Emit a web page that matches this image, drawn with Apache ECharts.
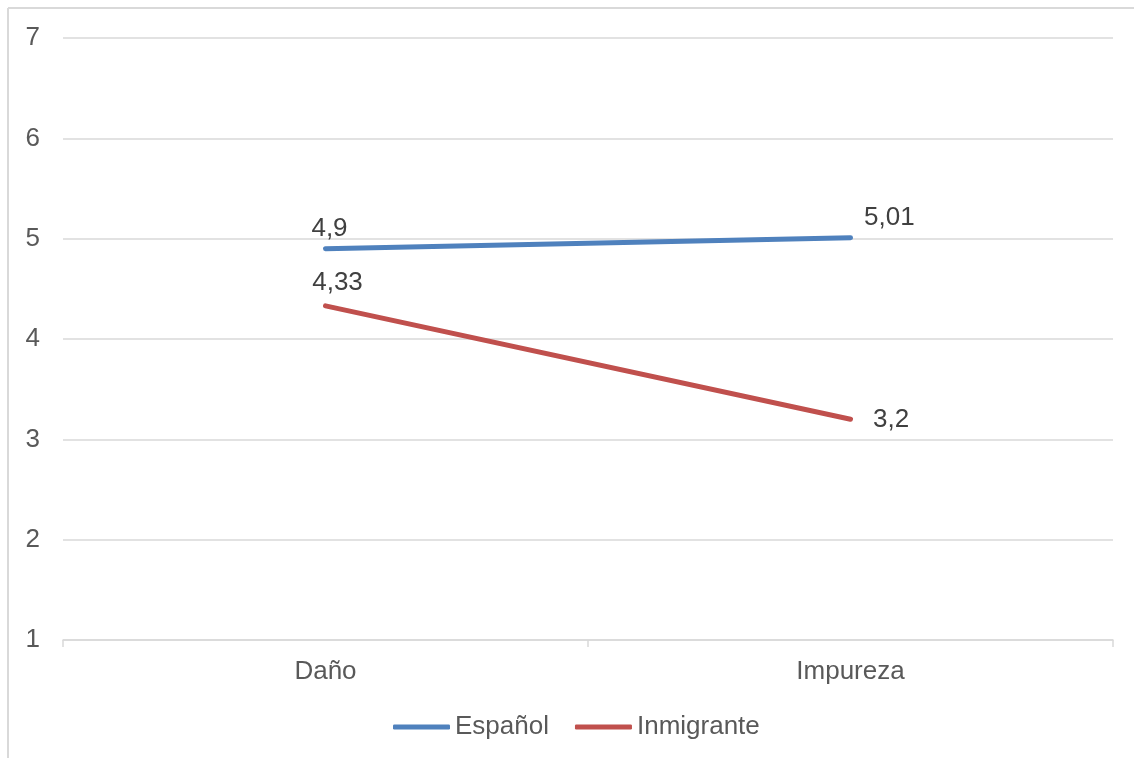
<!DOCTYPE html>
<html>
<head>
<meta charset="utf-8">
<script src="https://cdn.jsdelivr.net/npm/echarts@6/dist/echarts.min.js"></script>
<style>
  html, body { margin: 0; padding: 0; background: #fff; }
  #main { width: 1134px; height: 758px; }
</style>
</head>
<body>
<div id="main"></div>
<script>
  // categorias y valores
  var categories = ['Daño', 'Impureza'];
  var espanol = [4.9, 5.01];
  var inmigrante = [4.33, 3.2];
  var seriesNames = ['Español', 'Inmigrante'];

  var labelFont = 'Liberation Sans, Arial, sans-serif';
  var fs = 26;

  var chart = echarts.init(document.getElementById('main'));
  chart.setOption({
    animation: false,
    textStyle: { fontFamily: labelFont },
    graphic: [
      { type: 'line', shape: { x1: 8, y1: 8, x2: 1134, y2: 8 }, style: { stroke: '#d9d9d9', lineWidth: 2 } },
      { type: 'line', shape: { x1: 8, y1: 8, x2: 8, y2: 758 }, style: { stroke: '#d9d9d9', lineWidth: 2 } }
    ],
    grid: { left: 63, right: 21, top: 38, bottom: 118 },
    legend: {
      bottom: 13,
      left: 388,
      itemWidth: 57,
      itemHeight: 5,
      itemGap: 26,
      icon: 'roundRect',
      textStyle: { color: '#595959', fontSize: fs, fontFamily: labelFont },
      data: seriesNames
    },
    xAxis: {
      type: 'category',
      data: categories,
      boundaryGap: true,
      axisLine: { lineStyle: { color: '#d9d9d9', width: 1.5 } },
      axisTick: { show: true, length: 7, lineStyle: { color: '#d9d9d9', width: 1.5 } },
      axisLabel: { color: '#595959', fontSize: fs, margin: 19 }
    },
    yAxis: {
      type: 'value',
      min: 1,
      max: 7,
      interval: 1,
      axisLine: { show: false },
      axisTick: { show: false },
      axisLabel: { color: '#595959', fontSize: fs, margin: 23 },
      splitLine: { lineStyle: { color: '#d9d9d9', width: 1.5 } }
    },
    series: [
      {
        name: seriesNames[0],
        type: 'line',
        data: espanol,
        color: '#4f81bd',
        symbol: 'circle',
        symbolSize: 1,
        lineStyle: { width: 5, cap: 'round' },
        label: {
          show: true,
          color: '#404040',
          fontSize: fs,
          formatter: function (p) { return String(p.value).replace('.', ','); }
        },
        emphasis: { disabled: true }
      },
      {
        name: seriesNames[1],
        type: 'line',
        data: inmigrante,
        color: '#c0504d',
        symbol: 'circle',
        symbolSize: 1,
        lineStyle: { width: 5, cap: 'round' },
        label: {
          show: true,
          color: '#404040',
          fontSize: fs,
          formatter: function (p) { return String(p.value).replace('.', ','); }
        },
        emphasis: { disabled: true }
      }
    ]
  });

  // posiciones de las etiquetas como en el original
  chart.setOption({
    series: [
      {
        data: [
          { value: espanol[0], label: { position: 'top', distance: 6, offset: [4, 0] } },
          { value: espanol[1], label: { position: 'right', distance: 13, offset: [0, -20] } }
        ]
      },
      {
        data: [
          { value: inmigrante[0], label: { position: 'top', distance: 10, offset: [12, 0] } },
          { value: inmigrante[1], label: { position: 'right', distance: 22, offset: [0, 1] } }
        ]
      }
    ]
  });
</script>
</body>
</html>
